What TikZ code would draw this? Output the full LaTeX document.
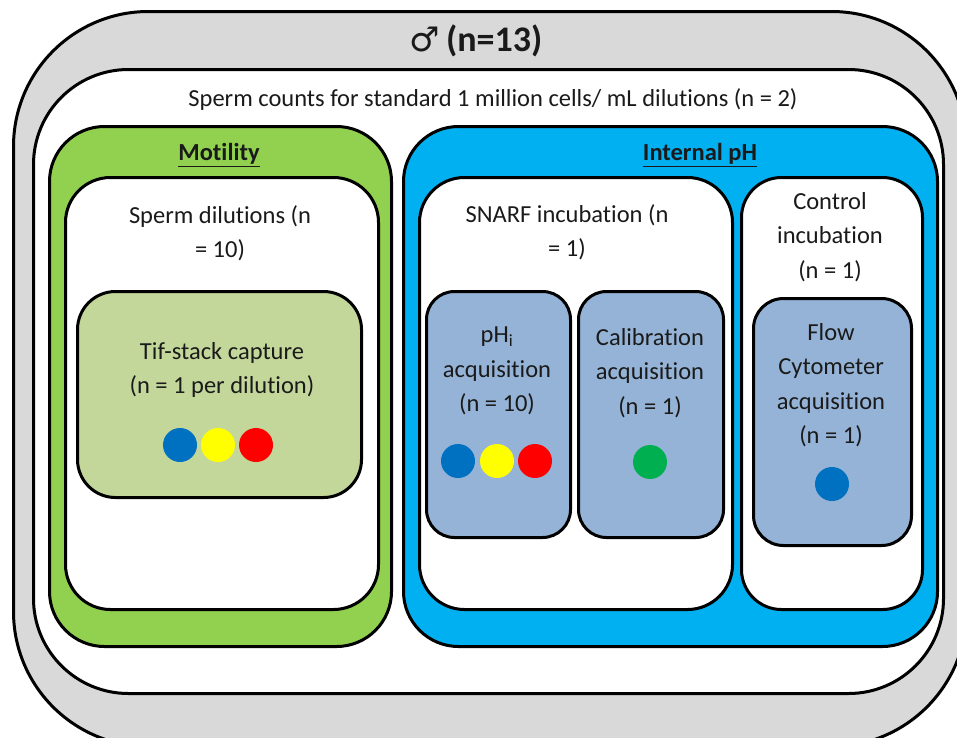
\documentclass[tikz,border=0pt]{standalone}
\usepackage{fontspec}
\setmainfont{Carlito}[Ligatures=NoCommon]
\newfontfamily\symfont{DejaVu Sans}
\definecolor{outergray}{HTML}{D9D9D9}
\definecolor{motgreen}{HTML}{92D050}
\definecolor{tifgreen}{HTML}{C4D79B}
\definecolor{phblue}{HTML}{00B0F0}
\definecolor{acqblue}{HTML}{95B3D7}
\definecolor{dotblue}{HTML}{0070C0}
\definecolor{dotyellow}{HTML}{FFFF00}
\definecolor{dotred}{HTML}{FF0000}
\definecolor{dotgreen}{HTML}{00B050}
\definecolor{txtcol}{HTML}{1A1A1A}
\begin{document}
\begin{tikzpicture}[x=1pt,y=-1pt,
  box/.style={draw=black, line width=3pt, inner sep=0pt, anchor=north west},
  txt/.style={font=\fontsize{24.5}{34.5}\selectfont, align=center, text=txtcol, inner sep=0pt},
  hdr/.style={font=\fontsize{24.5}{28}\selectfont\bfseries, text=txtcol, inner sep=0pt},
  dot/.style={circle, inner sep=0pt, minimum size=34pt}]
\useasboundingbox (0,0) rectangle (957,737);
\clip (0,0) rectangle (957,737);
\fill[white] (0,0) rectangle (957,737);
% boxes
\node[box, fill=outergray, minimum width=953pt, minimum height=735pt, rounded corners=135pt] (outer) at (12,10) {};
\node[box, fill=white, minimum width=910pt, minimum height=624pt, rounded corners=95pt] (counts) at (32,68) {};
\node[box, fill=motgreen, minimum width=342pt, minimum height=520pt, rounded corners=55pt] (motility) at (48,125) {};
\node[box, fill=white, minimum width=313pt, minimum height=432pt, rounded corners=45pt] (dilutions) at (64,176) {};
\node[box, fill=tifgreen, minimum width=284pt, minimum height=206pt, rounded corners=38pt] (tif) at (76,290) {};
\node[box, fill=phblue, minimum width=534pt, minimum height=520pt, rounded corners=55pt] (intph) at (402,125) {};
\node[box, fill=white, minimum width=313pt, minimum height=432pt, rounded corners=45pt] (snarf) at (418,176) {};
\node[box, fill=acqblue, minimum width=144pt, minimum height=246pt, rounded corners=28pt] (phi) at (425,290) {};
\node[box, fill=acqblue, minimum width=145pt, minimum height=246pt, rounded corners=28pt] (calib) at (577,290) {};
\node[box, fill=white, minimum width=181pt, minimum height=432pt, rounded corners=40pt] (control) at (740,176) {};
\node[box, fill=acqblue, minimum width=158pt, minimum height=247pt, rounded corners=30pt] (flow) at (752,297) {};
% texts
\node[inner sep=0pt, text=txtcol] (title) at (476,41) {{\symfont\fontsize{34}{38}\selectfont ♂}\hspace{6pt}{\fontsize{36}{40}\selectfont\bfseries (n=13)}};
\node[txt] (countst) at (493,100) {Sperm counts for standard 1 million cells/ mL dilutions (n = 2)};
\node[hdr] (motilityt) at (219,155) {\underline{Motility}};
\node[hdr] (intpht) at (700,155) {\underline{Internal pH}};
\node[txt] (dilutionst) at (220,233) {Sperm dilutions (n\\= 10)};
\node[txt] (tift) at (222,370) {Tif-stack capture\\(n = 1 per dilution)};
\node[txt] (snarft) at (567,232) {SNARF incubation (n\\= 1)};
\node[txt] (phit) at (497,371) {pH\textsubscript{i}\\acquisition\\(n = 10)};
\node[txt] (calibt) at (650,373) {Calibration\\acquisition\\(n = 1)};
\node[txt] (controlt) at (830,237) {Control\\incubation\\(n = 1)};
\node[txt] (flowt) at (831,385) {Flow\\Cytometer\\acquisition\\(n = 1)};
% dots
\node[dot, fill=dotblue] (d1) at (180,445) {};
\node[dot, fill=dotyellow] (d2) at (218,445) {};
\node[dot, fill=dotred] (d3) at (256,445) {};
\node[dot, fill=dotblue] (d4) at (458,461) {};
\node[dot, fill=dotyellow] (d5) at (497,461) {};
\node[dot, fill=dotred] (d6) at (535,461) {};
\node[dot, fill=dotgreen] (d7) at (650,462) {};
\node[dot, fill=dotblue] (d8) at (832,484) {};
\end{tikzpicture}
\end{document}
